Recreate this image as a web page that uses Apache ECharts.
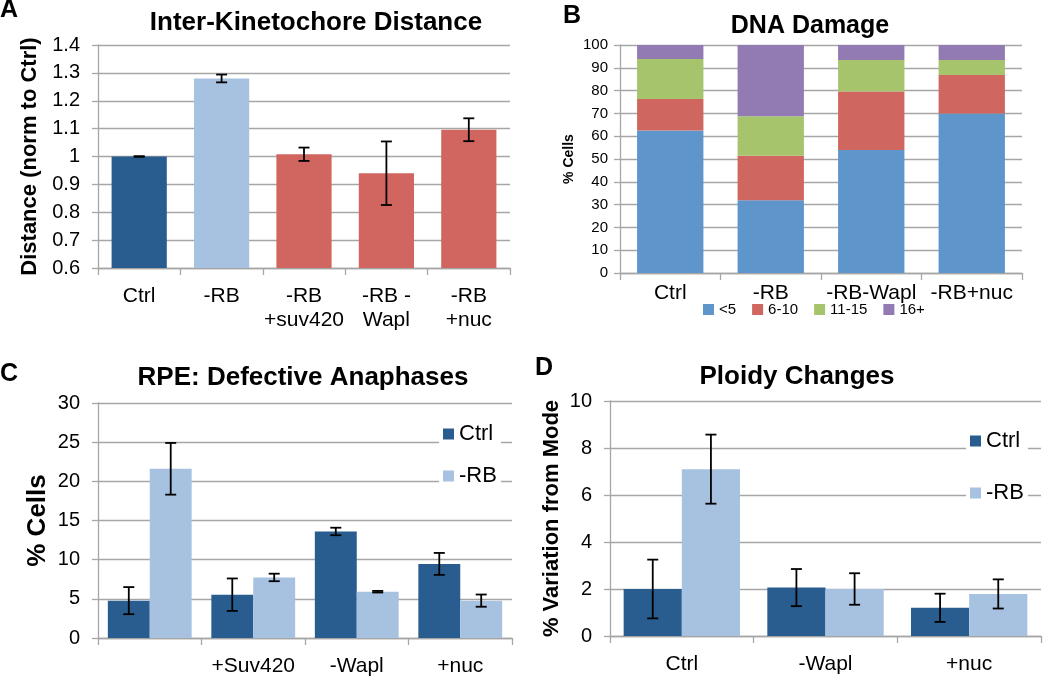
<!DOCTYPE html>
<html><head><meta charset="utf-8">
<script src="https://cdn.jsdelivr.net/npm/echarts@6/dist/echarts.min.js"></script>
<style>html,body{margin:0;padding:0;background:#fff}#c{width:1050px;height:678px}</style>
</head><body><div id="c"></div><script>
// Panel A
const catA = ['Ctrl', '-RB', '-RB\n+suv420', '-RB -\nWapl', '-RB\n+nuc'];
const valA = [1.0, 1.28, 1.008, 0.94, 1.096];
const errA = [0.001, 0.014, 0.024, 0.114, 0.041];
// Panel B
const catB = ['Ctrl', '-RB', '-RB-Wapl', '-RB+nuc'];
const namesB = ['<5', '6-10', '11-15', '16+'];
const bLt5 = [62.5, 31.9, 53.9, 70.0];
const b6to10 = [13.8, 19.5, 25.7, 16.8];
const b11to15 = [17.6, 17.4, 13.8, 6.6];
const b16plus = [6.1, 31.2, 6.6, 6.6];
// Panel C
const catC = ['', '+Suv420', '-Wapl', '+nuc'];
const cCtrl = [4.77, 5.53, 13.6, 9.46];
const cCtrlErr = [1.73, 2.07, 0.48, 1.4];
const cRB = [21.6, 7.73, 5.91, 4.77];
const cRBErr = [3.3, 0.48, 0.1, 0.78];
// Panel D
const catD = ['Ctrl', '-Wapl', '+nuc'];
const dCtrl = [2.0, 2.06, 1.2];
const dCtrlErr = [1.25, 0.79, 0.6];
const dRB = [7.1, 2.0, 1.79];
const dRBErr = [1.47, 0.67, 0.62];

const FONT = 'Liberation Sans, Arial, sans-serif';
const DARK = '#2A5D8F', LIGHT = '#A7C1E0', RED = '#D0665F';
const colorsA = [DARK, LIGHT, RED, RED, RED];
const colorsB = ['#5E95CB', '#D06660', '#A6C46B', '#927BB2'];
const GRIDC = '#A6A6A6';
const GAP = 0.19;

function errData(vals, errs) { return vals.map((v, i) => [i, v - errs[i], v + errs[i]]); }
function errRender(sign, gapFrac) {
  return function (params, api) {
    const i = api.value(0), lo = api.value(1), hi = api.value(2);
    const band = api.size([1, 0])[0];
    const off = sign * band * (1 - gapFrac) / 4;
    const pLo = api.coord([i, lo]), pHi = api.coord([i, hi]);
    const x = pLo[0] + off, cap = 5.5;
    const style = { stroke: '#000', lineWidth: 1.8 };
    return { type: 'group', children: [
      { type: 'line', shape: { x1: x, y1: pHi[1], x2: x, y2: pLo[1] }, style },
      { type: 'line', shape: { x1: x - cap, y1: pHi[1], x2: x + cap, y2: pHi[1] }, style },
      { type: 'line', shape: { x1: x - cap, y1: pLo[1], x2: x + cap, y2: pLo[1] }, style }
    ] };
  };
}
function xAx(gi, cats, fs, margin, lh) {
  return { type: 'category', gridIndex: gi, data: cats,
    axisLine: { lineStyle: { color: GRIDC, width: 1.3 } },
    axisTick: { show: true, length: 7, lineStyle: { color: GRIDC, width: 1.3 } },
    axisLabel: { color: '#000', fontSize: fs, fontFamily: FONT, margin: margin, lineHeight: lh, interval: 0 } };
}
function yAx(gi, min, max, interval, fs, margin, name, nfs, ngap) {
  return { type: 'value', gridIndex: gi, min, max, interval,
    name, nameLocation: 'middle', nameRotate: 90, nameGap: ngap,
    nameTextStyle: { fontSize: nfs, fontWeight: 'bold', color: '#000', fontFamily: FONT },
    axisLine: { show: true, lineStyle: { color: GRIDC, width: 1.3 } },
    axisTick: { show: true, length: 6, lineStyle: { color: GRIDC, width: 1.3 } },
    splitLine: { lineStyle: { color: GRIDC, width: 1.3 } },
    axisLabel: { color: '#000', fontSize: fs, fontFamily: FONT, margin: margin } };
}
const titleStyle = { fontFamily: FONT, fontWeight: 'bold', color: '#000', fontSize: 26 };
const letterStyle = { fontFamily: FONT, fontWeight: 'bold', color: '#000', fontSize: 25 };

const series = [];
// A
series.push({ type: 'bar', name: 'Distance', xAxisIndex: 0, yAxisIndex: 0, barCategoryGap: '33%',
  data: valA.map((v, i) => ({ value: v, itemStyle: { color: colorsA[i] } })) });
series.push({ type: 'custom', xAxisIndex: 0, yAxisIndex: 0, z: 5, renderItem: errRender(0, 0),
  encode: { x: 0, y: [1, 2] }, data: errData(valA, errA) });
// B
[bLt5, b6to10, b11to15, b16plus].forEach((arr, k) => {
  series.push({ type: 'bar', name: namesB[k], stack: 'B', xAxisIndex: 1, yAxisIndex: 1,
    barCategoryGap: '34%', itemStyle: { color: colorsB[k] }, data: arr });
});
// C
series.push({ type: 'bar', name: 'Ctrl', xAxisIndex: 2, yAxisIndex: 2, barGap: '0%', barCategoryGap: '19%',
  itemStyle: { color: DARK }, data: cCtrl });
series.push({ type: 'bar', name: '-RB', xAxisIndex: 2, yAxisIndex: 2, barGap: '0%', barCategoryGap: '19%',
  itemStyle: { color: LIGHT }, data: cRB });
series.push({ type: 'custom', xAxisIndex: 2, yAxisIndex: 2, z: 5, renderItem: errRender(-1, GAP),
  encode: { x: 0, y: [1, 2] }, data: errData(cCtrl, cCtrlErr) });
series.push({ type: 'custom', xAxisIndex: 2, yAxisIndex: 2, z: 5, renderItem: errRender(1, GAP),
  encode: { x: 0, y: [1, 2] }, data: errData(cRB, cRBErr) });
// D
series.push({ type: 'bar', name: 'Ctrl', xAxisIndex: 3, yAxisIndex: 3, barGap: '0%', barCategoryGap: '19%',
  itemStyle: { color: DARK }, data: dCtrl });
series.push({ type: 'bar', name: '-RB', xAxisIndex: 3, yAxisIndex: 3, barGap: '0%', barCategoryGap: '19%',
  itemStyle: { color: LIGHT }, data: dRB });
series.push({ type: 'custom', xAxisIndex: 3, yAxisIndex: 3, z: 5, renderItem: errRender(-1, GAP),
  encode: { x: 0, y: [1, 2] }, data: errData(dCtrl, dCtrlErr) });
series.push({ type: 'custom', xAxisIndex: 3, yAxisIndex: 3, z: 5, renderItem: errRender(1, GAP),
  encode: { x: 0, y: [1, 2] }, data: errData(dRB, dRBErr) });

const legendCommon = { icon: 'rect', backgroundColor: '#fff', orient: 'vertical',
  itemWidth: 11, itemHeight: 11, textStyle: { fontFamily: FONT, fontSize: 22, color: '#000' },
  data: ['Ctrl', '-RB'], selectedMode: false, padding: [2, 4, 2, 4] };

const option = {
  animation: false,
  backgroundColor: '#fff',
  title: [
    { text: 'A', left: 0, top: -2, padding: 0, textStyle: letterStyle },
    { text: 'Inter-Kinetochore Distance', left: 316, top: 10, padding: 0, textAlign: 'center', textStyle: titleStyle },
    { text: 'B', left: 563, top: 4, padding: 0, textStyle: letterStyle },
    { text: 'DNA Damage', left: 810, top: 14, padding: 0, textAlign: 'center', textStyle: Object.assign({}, titleStyle, { fontSize: 25 }) },
    { text: 'C', left: 0, top: 362, padding: 0, textStyle: letterStyle },
    { text: 'RPE: Defective Anaphases', left: 303, top: 365, padding: 0, textAlign: 'center', textStyle: titleStyle },
    { text: 'D', left: 535, top: 356, padding: 0, textStyle: letterStyle },
    { text: 'Ploidy Changes', left: 797, top: 364, padding: 0, textAlign: 'center', textStyle: titleStyle }
  ],
  legend: [
    { data: namesB, icon: 'rect', left: 703, top: 302, itemWidth: 11, itemHeight: 11, itemGap: 16,
      selectedMode: false, textStyle: { fontFamily: FONT, fontSize: 15, color: '#000' }, padding: 0 },
    Object.assign({}, legendCommon, { left: 439, top: 421, itemGap: 20 }),
    Object.assign({}, legendCommon, { left: 966, top: 428, itemGap: 30 })
  ],
  grid: [
    { left: 98, top: 45, width: 412, height: 223 },
    { left: 620, top: 45, width: 402, height: 228 },
    { left: 98, top: 403, width: 414, height: 236 },
    { left: 610, top: 401, width: 431, height: 235 }
  ],
  xAxis: [
    xAx(0, catA, 21, 16, 24),
    xAx(1, catB, 21, 8, 24),
    xAx(2, catC, 21, 16, 24),
    xAx(3, catD, 21, 16, 24)
  ],
  yAxis: [
    yAx(0, 0.6, 1.4, 0.1, 20, 18, 'Distance (norm to Ctrl)', 22, 57),
    yAx(1, 0, 100, 10, 15, 12, '% Cells', 14, 44),
    yAx(2, 0, 30, 5, 20, 18, '% Cells', 26, 47),
    yAx(3, 0, 10, 2, 20, 18, '% Variation from Mode', 22, 47)
  ],
  series
};
const chart = echarts.init(document.getElementById('c'), null, { renderer: 'canvas' });
chart.setOption(option);
</script></body></html>
